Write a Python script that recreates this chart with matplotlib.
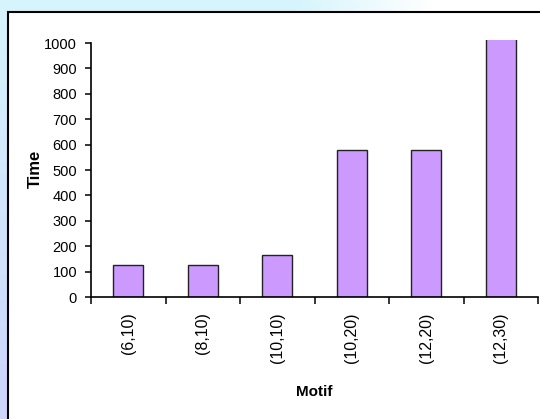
import numpy as np
import matplotlib.pyplot as plt
from matplotlib.patches import Rectangle

plt.rcParams['font.family'] = ['Liberation Sans', 'DejaVu Sans']

motifs = ['(6,10)', '(8,10)', '(10,10)', '(10,20)', '(12,20)', '(12,30)']
times = [125, 125, 165, 578, 578, 1100]
yticks = list(range(0, 1001, 100))

W, H = 540, 419
fig = plt.figure(figsize=(W / 100, H / 100), dpi=100)

# soft blue slide background
bg = fig.add_axes([0, 0, 1, 1])
bg.set_axis_off()
yy, xx = np.mgrid[0:1:H * 1j, 0:1:W * 1j]
top = np.array([0.84, 0.96, 0.99])
bottom = np.array([0.80, 0.83, 0.99])
img = top * (1 - yy[..., None]) + bottom * yy[..., None]
fade = np.clip((xx - 0.55) / 0.25, 0, 1)[..., None]
img = img * (1 - fade) + fade
bg.imshow(img, aspect='auto', extent=[0, 1, 0, 1], origin='upper')
bg.set_xlim(0, 1)
bg.set_ylim(0, 1)

# white chart panel
bg.add_patch(Rectangle((8 / W, -0.1), 1.2, (H - 12) / H + 0.1,
                       facecolor='white', edgecolor='black', linewidth=1.5,
                       clip_on=False, zorder=2))

ax = fig.add_axes([91 / W, (H - 297) / H, (538 - 91) / W, (297 - 40) / H])
ax.set_facecolor('none')
x = np.arange(len(motifs))
ax.bar(x, times, width=0.4, color='#CC99FF', edgecolor='#222222', linewidth=1.0)

ax.set_xlim(-0.5, len(motifs) - 0.5)
ax.set_ylim(0, 1000 * 257 / 254)
ax.set_yticks(yticks)
ax.spines['left'].set_bounds(0, 1000)
for s in ('top', 'right'):
    ax.spines[s].set_visible(False)
for s in ('left', 'bottom'):
    ax.spines[s].set_linewidth(1.2)

ax.set_xticks(x)
ax.set_xticklabels(motifs, rotation=90, fontsize=11.5)
ax.set_xticks(np.arange(-0.5, len(motifs)), minor=True)
ax.tick_params(axis='x', which='major', length=0, pad=11)
ax.tick_params(axis='x', which='minor', length=5, width=1.1, direction='out')
ax.tick_params(axis='y', length=4, width=1.1, direction='out', pad=6, labelsize=10.5)

ax.set_xlabel('Motif', fontsize=11, fontweight='bold', labelpad=16)
ax.set_ylabel('Time', fontsize=12, fontweight='bold', labelpad=1)

fig.savefig('out.png', dpi=100)
